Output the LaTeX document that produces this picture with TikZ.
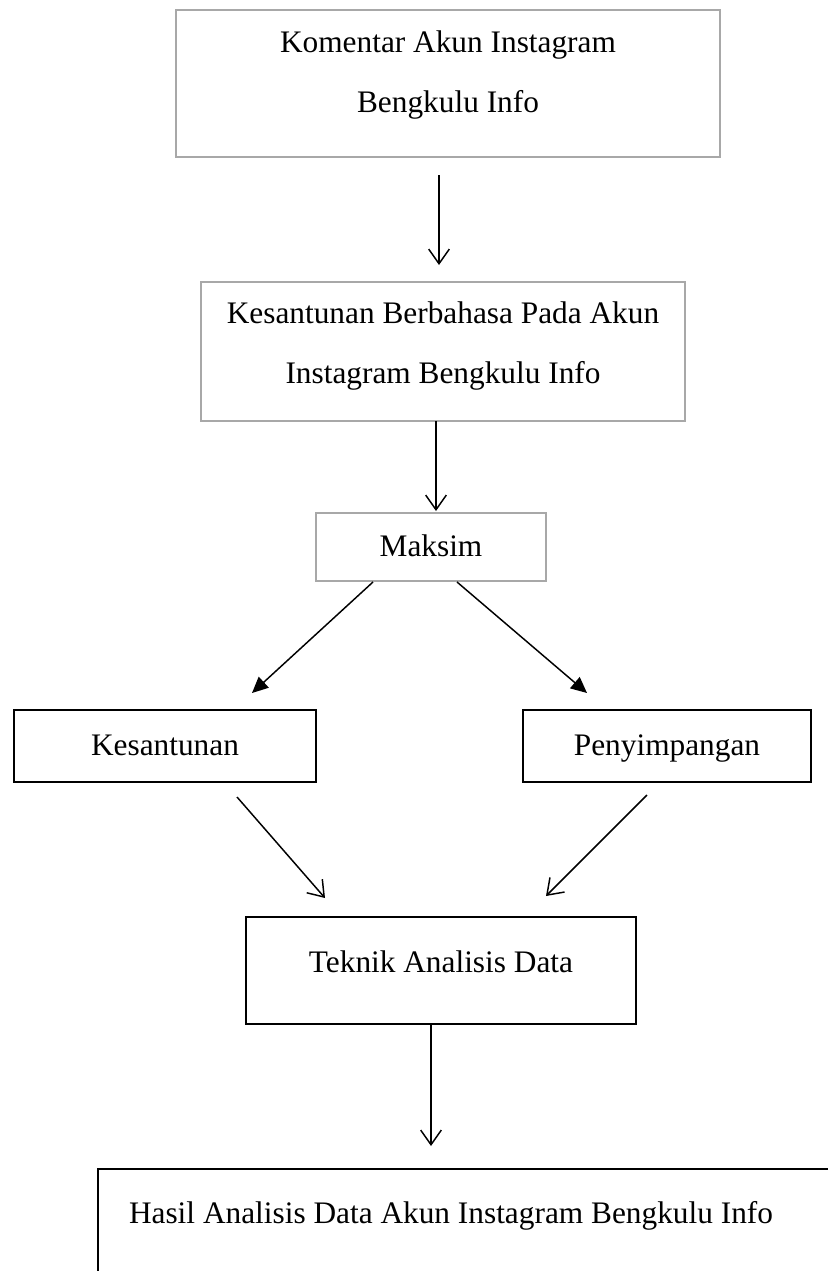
\documentclass[tikz,border=0pt]{standalone}
\usepackage{fontspec}
\setmainfont{Liberation Serif}
\usetikzlibrary{arrows.meta,calc}
\definecolor{boxgray}{HTML}{A8A8A8}
\begin{document}
\begin{tikzpicture}[x=0.75pt,y=-0.75pt,
  every node/.style={inner sep=0pt,outer sep=0pt},
  sz/.style 2 args={minimum width=#1*0.75pt,minimum height=#2*0.75pt},
  gbox/.style={draw=boxgray,line width=1.3pt,rectangle},
  kbox/.style={draw=black,line width=1.5pt,rectangle},
  txt/.style={font=\fontsize{23.5}{45}\selectfont,align=center},
  varr/.style={draw,line width=1.1pt,-{Straight Barb[length=11pt,width=15.5pt,line width=1.1pt]}},
  farr/.style={draw,line width=1.1pt,-{Triangle[length=12pt,width=11pt]}},
]
\useasboundingbox (0,0) rectangle (828,1271);
\clip (0,0) rectangle (828,1271);
\fill[white] (0,0) rectangle (828,1271);

% boxes
\node[gbox,sz={544}{147}] (b1) at (448,83.5) {};
\node[gbox,sz={484}{139}] (b2) at (443,351.5) {};
\node[gbox,sz={230}{68}]  (b3) at (431,547) {};
\node[kbox,sz={302}{72}]  (b4) at (165,746) {};
\node[kbox,sz={288}{72}]  (b5) at (667,746) {};
\node[kbox,sz={390}{107}] (b6) at (441,970.5) {};
\node[kbox,sz={802}{131}] (b7) at (499,1234.5) {};

% texts
\node[txt] (t1) at (448,75) {Komentar Akun Instagram\\Bengkulu Info};
\node[txt] (t2) at (443,346) {Kesantunan Berbahasa Pada Akun\\Instagram Bengkulu Info};
\node[txt] (t3) at (431,546) {Maksim};
\node[txt] (t4) at (165,745) {Kesantunan};
\node[txt] (t5) at (667,748.5) {Penyimpangan};
\node[txt] (t6) at (441,962) {Teknik Analisis Data};
\node[txt] (t7) at (451,1216) {Hasil Analisis Data Akun Instagram Bengkulu Info};

% connectors
\draw[varr] ($(b1.south)+(-9,18)$) -- ($(b2.north)+(-4,-17)$);
\draw[varr] ($(b2.south)+(-7,0)$) -- ($(b3.north)+(5,-2)$);
\draw[farr] ($(b3.south)+(-58,1)$) -- ($(b4.north)+(87,-17)$);
\draw[farr] ($(b3.south)+(26,1)$) -- ($(b5.north)+(-80,-17)$);
\draw[varr] ($(b4.south)+(72,15)$) -- ($(b6.north)+(-116,-19)$);
\draw[varr] ($(b5.south)+(-20,13)$) -- ($(b6.north)+(105,-21)$);
\draw[varr] ($(b6.south)+(-10,0)$) -- ($(b7.north)+(-68,-23)$);
\end{tikzpicture}
\end{document}
